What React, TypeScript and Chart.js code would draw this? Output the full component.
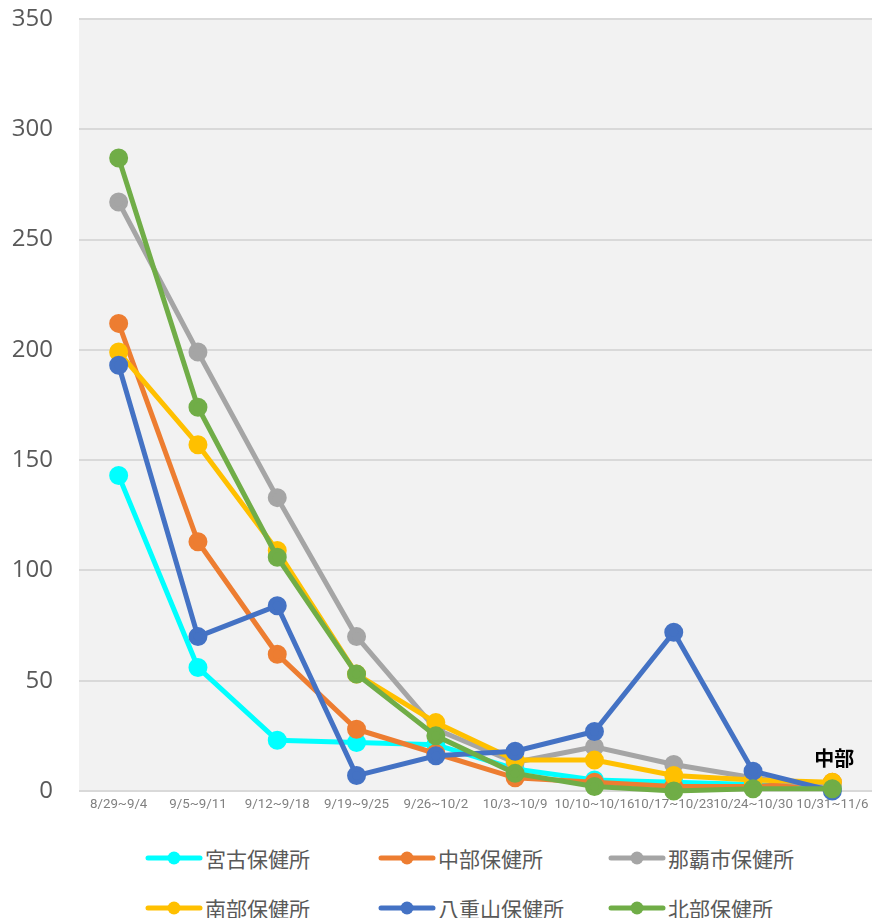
import React, { useEffect, useRef } from "react";
import { Chart, registerables } from "chart.js";

Chart.register(...registerables);

const weeks = [
  "8/29~9/4",
  "9/5~9/11",
  "9/12~9/18",
  "9/19~9/25",
  "9/26~10/2",
  "10/3~10/9",
  "10/10~10/16",
  "10/17~10/23",
  "10/24~10/30",
  "10/31~11/6",
];

const miyako = [143, 56, 23, 22, 21, 10, 5, 4, 3, 1];
const chubu = [212, 113, 62, 28, 17, 6, 4, 2, 2, 4];
const naha = [267, 199, 133, 70, 28, 13, 20, 12, 6, 2];
const nanbu = [199, 157, 109, 53, 31, 14, 14, 7, 5, 4];
const yaeyama = [193, 70, 84, 7, 16, 18, 27, 72, 9, 0];
const hokubu = [287, 174, 106, 53, 25, 8, 2, 0, 1, 1];

const seriesNames = ["宮古保健所", "中部保健所", "那覇市保健所", "南部保健所", "八重山保健所", "北部保健所"];
const seriesColors = ["#00FFFF", "#ED7D31", "#A5A5A5", "#FFC000", "#4472C4", "#70AD47"];
const seriesData = [miyako, chubu, naha, nanbu, yaeyama, hokubu];

const labelText = "中部";
const labelSeriesIndex = 1;

const yTicks = [0, 50, 100, 150, 200, 250, 300, 350];

const bgPlugin = {
  id: "plotBg",
  beforeDraw(chart: any) {
    const { ctx, chartArea } = chart;
    if (!chartArea) return;
    ctx.save();
    ctx.fillStyle = "#F2F2F2";
    ctx.fillRect(chartArea.left, chartArea.top, chartArea.right - chartArea.left, chartArea.bottom - chartArea.top);
    ctx.restore();
  },
};

const labelPlugin = {
  id: "lastLabel",
  afterDatasetsDraw(chart: any) {
    const meta = chart.getDatasetMeta(labelSeriesIndex);
    const pts = meta.data;
    if (!pts || !pts.length) return;
    const p = pts[pts.length - 1];
    const { ctx } = chart;
    ctx.save();
    ctx.font = "bold 20px 'Noto Sans CJK JP'";
    ctx.fillStyle = "#000000";
    ctx.textAlign = "center";
    ctx.textBaseline = "middle";
    ctx.fillText(labelText, p.x + 2, p.y - 24);
    ctx.restore();
  },
};

function LegendItem({ name, color }: { name: string; color: string }) {
  return (
    <div style={{ display: "flex", alignItems: "center", height: 30 }}>
      <svg width={58} height={16} style={{ display: "block" }}>
        <line x1={3} y1={8} x2={55} y2={8} stroke={color} strokeWidth={5} strokeLinecap="round" />
        <circle cx={29} cy={8} r={6.5} fill={color} />
      </svg>
      <span
        style={{
          fontFamily: "'Noto Sans CJK JP', 'Noto Sans', sans-serif",
          fontSize: 21,
          color: "#595959",
          marginLeft: 2,
          whiteSpace: "nowrap",
        }}
      >
        {name}
      </span>
    </div>
  );
}

export default function App() {
  const canvasRef = useRef<HTMLCanvasElement | null>(null);

  useEffect(() => {
    document.body.style.margin = "0";
    document.body.style.overflow = "hidden";
    document.body.style.background = "#FFFFFF";
    const canvas = canvasRef.current;
    if (!canvas) return;
    const chart = new Chart(canvas, {
      type: "line",
      data: {
        labels: weeks,
        datasets: seriesData.map((d, i) => ({
          label: seriesNames[i],
          data: d,
          borderColor: seriesColors[i],
          backgroundColor: seriesColors[i],
          pointBackgroundColor: seriesColors[i],
          pointBorderColor: seriesColors[i],
          borderWidth: 5,
          pointRadius: 7,
          pointHoverRadius: 7,
          tension: 0,
          clip: false,
          order: seriesData.length - i,
        })),
      },
      options: {
        responsive: false,
        animation: false,
        layout: { autoPadding: false, padding: { top: 19, left: 0, right: 0, bottom: 0 } },
        plugins: {
          legend: { display: false },
          tooltip: { enabled: false },
        },
        scales: {
          x: {
            offset: true,
            grid: { display: false, drawTicks: false },
            border: { display: false },
            afterFit(axis: any) {
              axis.height = 30;
              axis.paddingLeft = 0;
              axis.paddingRight = 0;
            },
            ticks: {
              autoSkip: false,
              maxRotation: 0,
              minRotation: 0,
              padding: 6,
              color: "#808080",
              font: { family: "Roboto", size: 13.3 },
            },
          },
          y: {
            min: 0,
            max: 350,
            afterBuildTicks(axis: any) {
              axis.ticks = yTicks.map((v) => ({ value: v }));
            },
            afterFit(axis: any) {
              axis.width = 79;
              axis.paddingTop = 0;
              axis.paddingBottom = 0;
            },
            grid: { color: "#D9D9D9", lineWidth: 2, drawTicks: false },
            border: { display: false },
            ticks: {
              padding: 26,
              color: "#595959",
              font: { family: "Open Sans", size: 24 },
            },
          },
        },
      },
      plugins: [bgPlugin, labelPlugin],
    });
    return () => chart.destroy();
  }, []);

  return (
    <div style={{ width: 872, height: 918, overflow: "hidden", position: "relative" }}>
      <canvas ref={canvasRef} width={872} height={821} style={{ display: "block" }} />
      <div
        style={{
          display: "grid",
          gridTemplateColumns: "233px 230px 240px",
          rowGap: 20,
          paddingLeft: 145,
          marginTop: 22,
        }}
      >
        {seriesNames.map((n, i) => (
          <LegendItem key={n} name={n} color={seriesColors[i]} />
        ))}
      </div>
    </div>
  );
}
